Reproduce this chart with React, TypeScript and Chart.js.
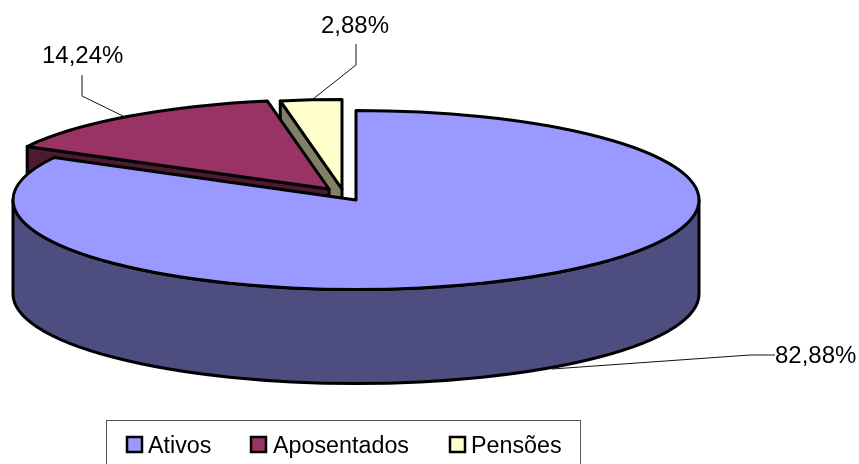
import React, { useEffect, useRef } from "react";
import { Chart, registerables } from "chart.js";

Chart.register(...registerables);

const categories = ["Ativos", "Aposentados", "Pensões"];
const shares = [82.88, 14.24, 2.88];
const topColors = ["#9999FF", "#993366", "#FFFFCC"];
const wallColors = ["#4D4D80", "#4D1A33", "#808066"];

const FONT = '"Liberation Sans", Arial, sans-serif';
const pie = { cx: 356, cy: 200, rx: 343, ry: 89.5, depth: 94 };
const explode = [[0, 0], [-27, -11], [-14, -11]];
const paintOrder = [2, 1, 0];
const leaders = [
  [[775, 355], [750, 355], [552, 369]],
  [[82, 75], [82, 96], [127, 118]],
  [[356, 44], [356, 65], [313, 99]],
];
const labelAt = [[775, 363], [42, 63], [321, 33]];
const legendFrame = { x: 106.5, y: 420.5, w: 474, h: 60 };
const legendBoxX = [127, 251, 450];
const legendTextX = [148, 273, 471];
const legendBoxY = 437;
const legendBox = 15;
const legendBaseline = 453;

const pieIn3d = {
  id: "pieIn3d",
  beforeDatasetDraw(chart: any) {
    const { ctx } = chart;
    const meta = chart.getDatasetMeta(0);
    ctx.save();
    ctx.lineJoin = "round";
    ctx.strokeStyle = "#000";
    ctx.lineWidth = 3;
    for (const i of paintOrder) {
      const el = meta.data[i];
      const a0 = el.startAngle;
      const a1 = el.endAngle;
      const ox = pie.cx + explode[i][0];
      const oy = pie.cy + explode[i][1];
      const px = (a: number) => ox + pie.rx * Math.cos(a);
      const py = (a: number) => oy + pie.ry * Math.sin(a);

      // straight cut faces: only those turned towards the viewer
      const faces: number[] = [];
      if (-Math.cos(a0) > 1e-6) faces.push(a0);
      if (Math.cos(a1) > 1e-6) faces.push(a1);
      for (const a of faces) {
        ctx.beginPath();
        ctx.moveTo(ox, oy);
        ctx.lineTo(px(a), py(a));
        ctx.lineTo(px(a), py(a) + pie.depth);
        ctx.lineTo(ox, oy + pie.depth);
        ctx.closePath();
        ctx.fillStyle = wallColors[i];
        ctx.fill();
        ctx.stroke();
      }

      // curved outer wall (front half only)
      const w0 = Math.max(a0, 0);
      const w1 = Math.min(a1, Math.PI);
      if (w1 > w0) {
        ctx.beginPath();
        ctx.ellipse(ox, oy, pie.rx, pie.ry, 0, w0, w1);
        ctx.lineTo(px(w1), py(w1) + pie.depth);
        ctx.ellipse(ox, oy + pie.depth, pie.rx, pie.ry, 0, w1, w0, true);
        ctx.closePath();
        ctx.fillStyle = wallColors[i];
        ctx.fill();
        ctx.stroke();
      }

      // top face: the library's arc, squashed into the ellipse
      ctx.save();
      ctx.translate(ox, oy);
      ctx.scale(pie.rx / el.outerRadius, pie.ry / el.outerRadius);
      ctx.translate(-el.x, -el.y);
      el.draw(ctx, chart.chartArea);
      ctx.restore();

      ctx.beginPath();
      ctx.moveTo(ox, oy);
      ctx.ellipse(ox, oy, pie.rx, pie.ry, 0, a0, a1);
      ctx.closePath();
      ctx.stroke();
    }
    ctx.restore();
    return false;
  },
  afterDraw(chart: any) {
    const { ctx } = chart;
    ctx.save();
    ctx.fillStyle = "#000";
    ctx.font = `24px ${FONT}`;
    ctx.textBaseline = "alphabetic";
    ctx.textAlign = "left";

    // leader lines and value labels
    ctx.strokeStyle = "#111";
    ctx.lineWidth = 1;
    leaders.forEach((pts, i) => {
      ctx.beginPath();
      pts.forEach(([x, y], k) => (k ? ctx.lineTo(x, y) : ctx.moveTo(x, y)));
      ctx.stroke();
      const text = shares[i].toFixed(2).replace(".", ",") + "%";
      ctx.fillText(text, labelAt[i][0], labelAt[i][1]);
    });

    // legend
    ctx.font = `23.3px ${FONT}`;
    ctx.strokeStyle = "#555";
    ctx.lineWidth = 1;
    ctx.strokeRect(legendFrame.x, legendFrame.y, legendFrame.w, legendFrame.h);
    categories.forEach((name, i) => {
      ctx.fillStyle = topColors[i];
      ctx.fillRect(legendBoxX[i], legendBoxY, legendBox, legendBox);
      ctx.strokeStyle = "#000";
      ctx.lineWidth = 2.5;
      ctx.strokeRect(legendBoxX[i], legendBoxY, legendBox, legendBox);
      ctx.fillStyle = "#000";
      ctx.fillText(name, legendTextX[i], legendBaseline);
    });
    ctx.restore();
  },
};

export default function App() {
  const ref = useRef<HTMLCanvasElement>(null);
  useEffect(() => {
    const chart = new Chart(ref.current as HTMLCanvasElement, {
      type: "pie",
      data: {
        labels: categories,
        datasets: [
          {
            data: shares,
            backgroundColor: topColors,
            borderWidth: 0,
            hoverOffset: 0,
          },
        ],
      },
      options: {
        responsive: false,
        animation: false,
        devicePixelRatio: 1,
        plugins: {
          legend: { display: false },
          tooltip: { enabled: false },
        },
      },
      plugins: [pieIn3d],
    } as any);
    return () => chart.destroy();
  }, []);
  return (
    <canvas
      ref={ref}
      width={859}
      height={464}
      style={{ position: "fixed", left: 0, top: 0, display: "block", background: "#fff" }}
    />
  );
}
